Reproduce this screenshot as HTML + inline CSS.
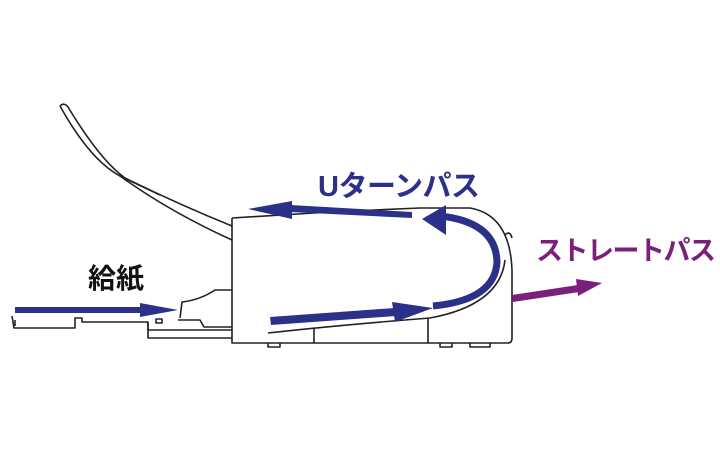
<!DOCTYPE html>
<html><head><meta charset="utf-8"><style>
html,body{margin:0;padding:0;background:#fff;width:720px;height:450px;overflow:hidden}
svg{display:block}
</style></head><body>
<svg width="720" height="450" viewBox="0 0 720 450" xmlns="http://www.w3.org/2000/svg">
<g fill="none" stroke="#222" stroke-width="1.6" stroke-linejoin="round">
<path d="M60,106 Q64,102 68,107 Q100,160 125,178 Q180,205 232,226"/>
<path d="M60,106 Q90,160 120,176 Q170,212 232,240"/>
<path d="M120,176 L160,195"/>
<path d="M232,218 L232,343 L508,343 Q512,343 512,338 L512,270 Q510,215 470,208 L420,208 L330,212 L232,218"/>
<path d="M268,333 Q340,325 430,318 Q500,305 505,260"/>
<path d="M314,328 L314,343 M428,318 L428,343"/>
<path d="M505,235 Q510,230 512,238"/>
<path d="M268,343 L268,347 L280,347 L280,343 M440,343 L440,347 L452,347 L452,343 M470,343 L470,347 L490,347 L490,343"/>
<path d="M12,316 L14,328 L75,328 L75,318 L82,318 L82,322 L148,322 L148,330 L232,330"/>
<path d="M148,322 L148,338 L232,338"/>
<path d="M15,320 L15,326"/>
<path d="M180,318 L182,302 Q200,300 215,290 L232,290"/>
<path d="M178,320 L200,320 L204,327 L232,327"/>
<rect x="156" y="319" width="6" height="4"/>
</g>
<g fill="#2b3088" stroke="none">
<rect x="15" y="307" width="130" height="6"/>
<polygon points="140,303 178,310 140,317"/>
<polygon points="270,317 395,308 396,316 271,325"/>
<polygon points="392,302 433,308 395,322"/>
<polygon points="412,218 290,212 290,205 412,212"/>
<polygon points="292,201 248,209 292,219"/>
</g>
<path d="M433,306 Q495,300 497,262 Q496,222 440,216" fill="none" stroke="#2b3088" stroke-width="7"/>
<polygon points="422,219 446,205 446,235" fill="#2b3088"/>
<polygon points="512,295 578,285 579,292 513,302" fill="#7a1f7a"/>
<polygon points="576,279 602,283 578,296" fill="#7a1f7a"/>
<text x="318" y="196" font-family="Liberation Sans, Noto Sans CJK JP, sans-serif" font-weight="bold" font-size="29" fill="#2b3088" letter-spacing="-0.5">Uターンパス</text>
<text x="536" y="260" font-family="Liberation Sans, Noto Sans CJK JP, sans-serif" font-weight="bold" font-size="27" fill="#7a1f7a" letter-spacing="-1.5">ストレートパス</text>
<text x="88" y="288" font-family="Liberation Sans, Noto Sans CJK JP, sans-serif" font-weight="bold" font-size="28" fill="#111">給紙</text>
</svg>
</body></html>
